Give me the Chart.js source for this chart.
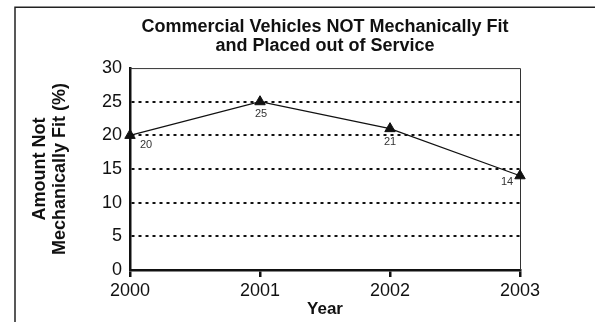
<!DOCTYPE html>
<html><head><meta charset="utf-8">
<script src="https://cdn.jsdelivr.net/npm/chart.js@4"></script>
<style>html,body{margin:0;padding:0;background:#fff}#wrap{width:595px;height:322px}</style>
</head><body><div id="wrap"><canvas id="c" width="595" height="322"></canvas></div>
<script>
// ---- data ----
const years = ['2000', '2001', '2002', '2003'];
const notFitPct = [20, 25, 21, 14];
const yMin = 0, yMax = 30, yStep = 5;
const titleLines = ['Commercial Vehicles NOT Mechanically Fit', 'and Placed out of Service'];
const yTitleLines = ['Amount Not', 'Mechanically Fit (%)'];
const xTitle = 'Year';

// ---- styling ----
const FONT = "'Liberation Sans', Arial, Helvetica, sans-serif";
const labelOffsets = [[16, 10], [1, 12], [0, 13], [-13, 6]];

const outerBox = {
  id: 'outerBox',
  beforeDraw(chart) {
    const c = chart.ctx;
    c.save();
    c.fillStyle = '#fff';
    c.fillRect(0, 0, chart.width, chart.height);
    c.strokeStyle = '#222';
    c.lineWidth = 1.5;
    c.strokeRect(15, 7.25, 800, 800);
    c.restore();
  }
};

const plotFrame = {
  id: 'plotFrame',
  beforeDatasetsDraw(chart) {
    const {ctx: c, chartArea: a} = chart;
    c.save();
    c.strokeStyle = '#333';
    c.lineWidth = 1;
    c.beginPath();
    c.moveTo(a.left, a.top + 0.5);
    c.lineTo(a.right + 0.5, a.top + 0.5);
    c.lineTo(a.right + 0.5, a.bottom);
    c.stroke();
    c.restore();
  }
};

const pointLabels = {
  id: 'pointLabels',
  afterDatasetsDraw(chart) {
    const c = chart.ctx;
    const meta = chart.getDatasetMeta(0);
    const ds = chart.data.datasets[0].data;
    c.save();
    c.font = '11px ' + FONT;
    c.fillStyle = '#333';
    c.textAlign = 'center';
    c.textBaseline = 'middle';
    meta.data.forEach((p, i) => {
      const o = labelOffsets[i] || [0, 12];
      c.fillText(String(ds[i]), p.x + o[0], p.y + o[1]);
    });
    c.restore();
  }
};

new Chart(document.getElementById('c'), {
  type: 'line',
  data: {
    labels: years,
    datasets: [{
      data: notFitPct,
      borderColor: '#111',
      borderWidth: 1.2,
      pointStyle: 'triangle',
      pointRadius: 6,
      pointBackgroundColor: '#111',
      pointBorderColor: '#111',
      pointBorderWidth: 1,
      tension: 0,
      fill: false,
      clip: false
    }]
  },
  options: {
    responsive: false,
    animation: false,
    events: [],
    layout: { padding: { left: 15, right: 75, top: 0, bottom: 0 } },
    plugins: {
      legend: { display: false },
      tooltip: { enabled: false },
      title: {
        display: true,
        text: titleLines,
        color: '#111',
        fullSize: false,
        font: { family: FONT, size: 18, weight: 'bold', lineHeight: 1.03 },
        padding: { top: 18, bottom: 13 }
      }
    },
    scales: {
      x: {
        type: 'category',
        offset: false,
        afterFit(s) { s.height = 52; },
        grid: { drawOnChartArea: false, drawTicks: true, tickLength: 7, color: '#111', lineWidth: 2.5 },
        border: { display: true, color: '#111', width: 2.5 },
        ticks: { color: '#111', font: { family: FONT, size: 18 }, padding: 3, maxRotation: 0, autoSkip: false },
        title: { display: true, text: xTitle, color: '#111', font: { family: FONT, size: 17, weight: 'bold', lineHeight: 1.2 }, padding: { top: 0, bottom: 2 } }
      },
      y: {
        min: yMin, max: yMax,
        afterFit(s) { s.width = 115; },
        grid: {
          drawTicks: false,
          lineWidth: 2,
          color: (ctx) => (ctx.tick && (ctx.tick.value === yMin || ctx.tick.value === yMax)) ? 'rgba(0,0,0,0)' : '#111'
        },
        border: { display: true, color: '#111', width: 2.5, dash: [3, 4] },
        ticks: { stepSize: yStep, color: '#111', font: { family: FONT, size: 18 }, padding: 8 },
        title: { display: true, text: yTitleLines, color: '#111', font: { family: FONT, size: 18, weight: 'bold', lineHeight: 1.11 }, padding: { top: 15, bottom: 0 } }
      }
    }
  },
  plugins: [outerBox, plotFrame, pointLabels]
});
</script>
</body></html>
